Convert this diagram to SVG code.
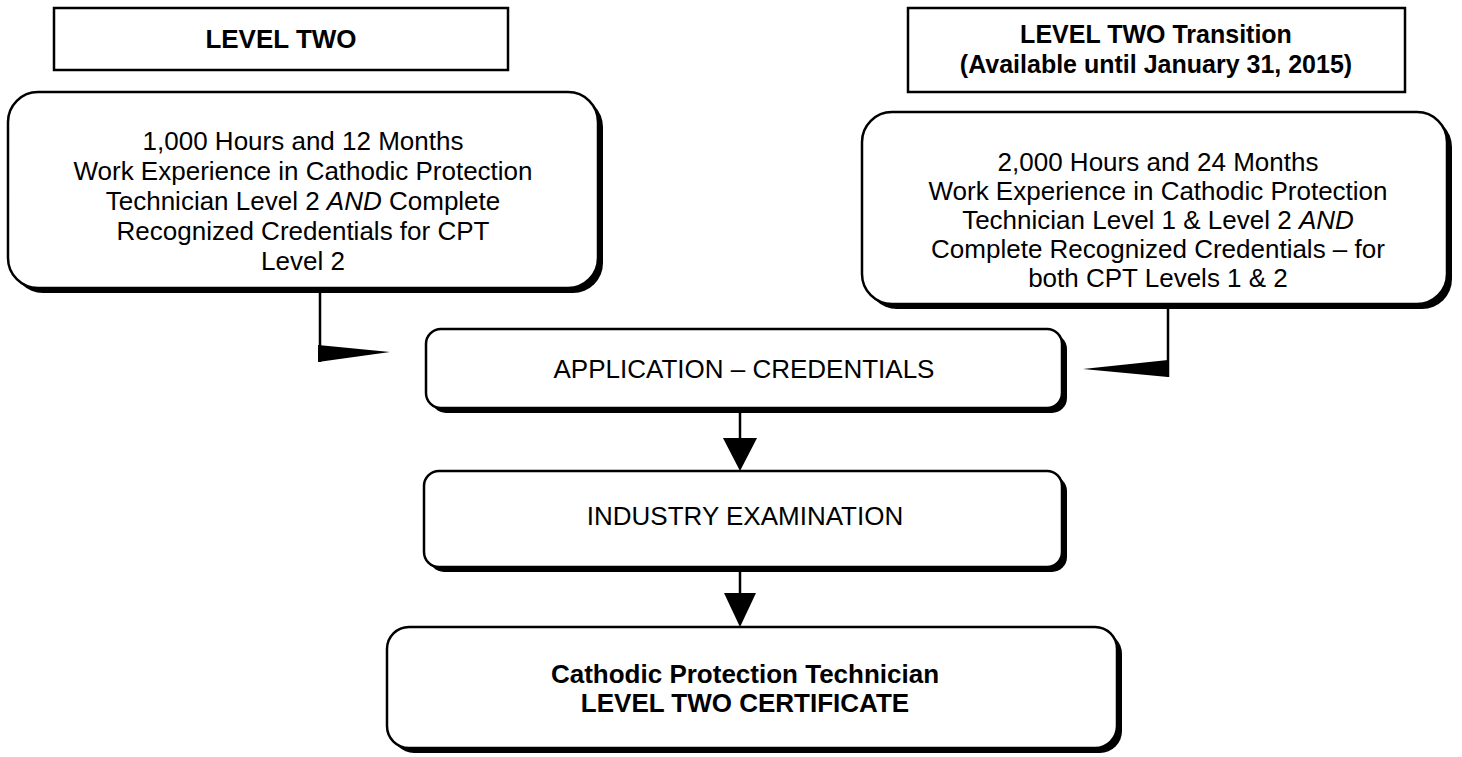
<svg xmlns="http://www.w3.org/2000/svg" width="1462" height="757" viewBox="0 0 1462 757">
<style>
.t{font-family:"Liberation Sans",Arial,sans-serif;font-size:26px;fill:#000;text-anchor:middle}
.b{font-weight:bold}
.h{font-size:25px}
.box{fill:#fff;stroke:#000;stroke-width:2.5}
.sh{fill:#000}
.ln{stroke:#000;stroke-width:2.5;fill:none}
.ah{fill:#000}
</style>
<rect width="1462" height="757" fill="#fff"/>
<g id="title-left">
<rect class="box" x="54" y="8" width="454" height="62"/>
<text class="t b" x="281" y="48">LEVEL TWO</text>
</g>
<g id="title-right">
<rect class="box" x="908" y="8" width="497" height="84"/>
<text class="t b h" x="1156" y="43">LEVEL TWO Transition</text>
<text class="t b h" x="1156" y="73">(Available until January 31, 2015)</text>
</g>
<g id="req-left">
<rect class="sh" x="13" y="97" width="590" height="196" rx="30"/>
<rect class="box" x="8" y="92" width="590" height="196" rx="30"/>
<text class="t" x="303" y="150">1,000 Hours and 12 Months</text>
<text class="t" x="303" y="180">Work Experience in Cathodic Protection</text>
<text class="t" x="303" y="210">Technician Level 2 <tspan font-style="italic">AND</tspan> Complete</text>
<text class="t" x="303" y="240">Recognized Credentials for CPT</text>
<text class="t" x="303" y="270">Level 2</text>
</g>
<g id="req-right">
<rect class="sh" x="867" y="117" width="585" height="192" rx="30"/>
<rect class="box" x="862" y="112" width="585" height="192" rx="30"/>
<text class="t" x="1158" y="171">2,000 Hours and 24 Months</text>
<text class="t" x="1158" y="200">Work Experience in Cathodic Protection</text>
<text class="t" x="1158" y="229">Technician Level 1 &amp; Level 2 <tspan font-style="italic">AND</tspan></text>
<text class="t" x="1158" y="258">Complete Recognized Credentials – for</text>
<text class="t" x="1158" y="287">both CPT Levels 1 &amp; 2</text>
</g>
<g id="application">
<rect class="sh" x="431" y="334" width="636" height="79" rx="15"/>
<rect class="box" x="426" y="329" width="636" height="79" rx="15"/>
<text class="t" x="744" y="378">APPLICATION – CREDENTIALS</text>
</g>
<g id="exam">
<rect class="sh" x="429" y="476" width="638" height="96" rx="15"/>
<rect class="box" x="424" y="471" width="638" height="96" rx="15"/>
<text class="t" x="745" y="525">INDUSTRY EXAMINATION</text>
</g>
<g id="certificate">
<rect class="sh" x="392" y="632" width="730" height="121" rx="22"/>
<rect class="box" x="387" y="627" width="730" height="121" rx="22"/>
<text class="t b" x="745" y="683">Cathodic Protection Technician</text>
<text class="t b" x="745" y="712">LEVEL TWO CERTIFICATE</text>
</g>
<g id="connectors">
<path class="ln" d="M320 293 V362"/>
<polygon class="ah" points="318,345 390,352 318,362"/>
<path class="ln" d="M1168 309 V377"/>
<polygon class="ah" points="1168,360 1083,369 1168,377"/>
<path class="ln" d="M740 413 V440"/>
<polygon class="ah" points="723,438 757,438 740,471"/>
<path class="ln" d="M740 572 V595"/>
<polygon class="ah" points="724,593 756,593 740,627"/>
</g>
</svg>
